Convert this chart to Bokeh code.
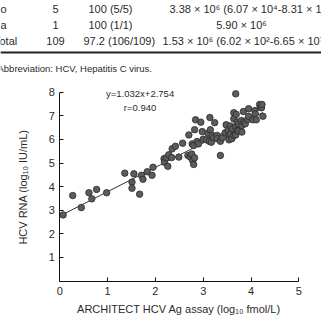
from bokeh.plotting import figure
from bokeh.models import Range1d, FixedTicker
from bokeh.core.properties import value
from bokeh.embed import file_html
from bokeh.resources import INLINE

# ---- table fragment (last rows) ----
row_labels = ["o", "a", "Total"]
row_n = ["5", "1", "109"]
row_pct = ["100 (5/5)", "100 (1/1)", "97.2 (106/109)"]
row_conc = ["3.38 × 10⁶ (6.07 × 10⁴-8.31 × 10⁶)", "5.90 × 10⁶", "1.53 × 10⁶ (6.02 × 10²-6.65 × 10⁷)"]
caption = "Abbreviation: HCV, Hepatitis C virus."

# ---- scatter data: ARCHITECT HCV Ag (log10 fmol/L) vs HCV RNA (log10 IU/mL) ----
ag = [0.07, 0.27, 0.45, 0.61, 0.67, 0.77, 0.98, 1.36, 1.51, 1.51, 1.55, 1.67, 1.71, 1.74, 1.83, 1.93, 1.95,
      2.18, 2.19, 2.23, 2.26, 2.28, 2.34, 2.35, 2.42, 2.49, 2.57, 2.68, 2.70, 2.73, 2.76, 2.77, 2.78, 2.80,
      2.80, 2.82, 2.82, 2.84, 2.87, 2.90, 2.95, 2.98, 3.00,
      3.07, 3.10, 3.13, 3.14, 3.15, 3.17, 3.19, 3.22, 3.24, 3.29, 3.29, 3.36, 3.36, 3.40, 3.46, 3.48, 3.52,
      3.54, 3.54, 3.57, 3.57, 3.60, 3.61, 3.64, 3.64, 3.64, 3.68, 3.68, 3.68, 3.69, 3.71, 3.71, 3.74, 3.74,
      3.80, 3.81, 3.81, 3.84, 3.85, 3.88, 3.93, 3.95, 3.95, 4.04, 4.08, 4.09, 4.11, 4.18, 4.20, 4.22, 4.23, 4.25]
rna = [2.80, 3.62, 3.11, 3.74, 3.48, 3.88, 3.74, 4.57, 4.19, 3.93, 4.54, 3.68, 4.48, 4.31, 4.63, 4.48, 4.82,
       5.18, 5.03, 5.22, 4.86, 5.35, 5.23, 5.60, 5.71, 5.25, 5.84, 5.32, 6.19, 5.25, 5.38, 5.81, 5.11, 4.94,
       5.74, 5.22, 6.41, 6.83, 5.91, 5.81, 6.73, 6.33, 6.01,
       5.98, 6.26, 5.92, 6.93, 6.41, 5.88, 6.17, 6.07, 6.71, 6.17, 6.03, 5.32, 5.92, 6.07, 6.28, 6.62, 6.40,
       6.17, 5.98, 6.57, 6.24, 6.03, 6.45, 6.17, 6.87, 7.13, 6.19, 6.52, 7.93, 7.06, 6.38, 6.73, 6.35, 6.66,
       6.80, 6.31, 6.59, 7.18, 6.73, 6.66, 6.84, 6.98, 7.30, 6.83, 7.22, 7.08, 6.83, 7.48, 7.36, 7.34, 7.48, 6.98]

slope = 1.032
intercept = 2.754
r_value = 0.940
fit_x = [0.0, 4.25]

x_ticks = [0, 1, 2, 3, 4, 5]
y_ticks = [1, 2, 3, 4, 5, 6, 7, 8]

FONT = "Liberation Sans"
TXT = "#2b2b2b"

# Canvas geometry: the plot frame covers the whole page, so the table above the
# chart lives in the same coordinate system.  Data (0,0) sits at pixel (59.3, 280.5).
W, H = 321, 315
X0_PX, PX_PER_X = 59.3, 47.8
Y0_PX, PX_PER_Y = 280.5, 23.6


def cx(px):
    return (px - X0_PX) / PX_PER_X


def cy(py):
    return (Y0_PX - py) / PX_PER_Y


p = figure(width=W, height=H,
           x_range=Range1d(cx(0), cx(W)), y_range=Range1d(cy(H), cy(0)),
           toolbar_location=None, output_backend="svg",
           min_border=0, min_border_left=0, min_border_right=0,
           min_border_top=0, min_border_bottom=0)
p.outline_line_color = None
p.xgrid.visible = False
p.ygrid.visible = False

# ---- axes drawn at the data origin ----
for ax in (p.xaxis[0], p.yaxis[0]):
    ax.fixed_location = 0
    ax.axis_line_color = "#111111"
    ax.axis_line_width = 1
    ax.major_tick_line_color = "#111111"
    ax.major_tick_in = 4
    ax.major_tick_out = 0
    ax.minor_tick_line_color = None
    ax.major_label_text_font = FONT
    ax.major_label_text_font_size = "11px"
    ax.major_label_text_color = TXT
    ax.axis_label_text_font = FONT
    ax.axis_label_text_font_size = "11px"
    ax.axis_label_text_font_style = "normal"
    ax.axis_label_text_color = TXT

p.xaxis.ticker = FixedTicker(ticks=x_ticks)
p.yaxis.ticker = FixedTicker(ticks=y_ticks)
p.xaxis.bounds = (0, 5)
p.yaxis.bounds = (0, 8)
p.xaxis.major_label_standoff = 6
p.yaxis.major_label_standoff = 5
p.xaxis.axis_label = "ARCHITECT HCV Ag assay (log₁₀ fmol/L)"
p.yaxis.axis_label = "HCV RNA (log₁₀ IU/mL)"
p.xaxis.axis_label_standoff = 4
p.yaxis.axis_label_standoff = 16

# ---- regression line, points and fit annotation ----
fit_y = [slope * x + intercept for x in fit_x]
p.line(fit_x, fit_y, line_color="#333333", line_width=1)
p.scatter(ag, rna, size=6.5, marker="circle", fill_color="#5c5c5c", line_color="#2a2a2a", line_width=0.8)

p.text(x=[1.68, 1.68], y=[7.94, 7.35],
       text=[f"y={slope:.3f}x+{intercept:.3f}", f"r={r_value:.3f}"],
       text_align="center", text_baseline="middle",
       text_font=value(FONT), text_font_size="9.5px", text_color=TXT)

# ---- table rows, rule and footnote above the chart ----
row_py = [8.5, 24.5, 40.5]
row_y = [cy(v) for v in row_py]
common = dict(text_font=value(FONT), text_font_size="11px", text_color=TXT, text_baseline="middle")
p.text(x=[cx(0), cx(0), cx(-6.5)], y=row_y, text=row_labels, text_align="left", **common)
p.text(x=[cx(55)] * 3, y=row_y, text=row_n, text_align="center", **common)
p.text(x=[cx(88), cx(88), cx(83)], y=row_y, text=row_pct, text_align="left", **common)
p.text(x=[cx(169), cx(162)], y=[row_y[0], row_y[2]], text=[row_conc[0], row_conc[2]],
       text_align="left", **common)
p.text(x=[cx(241)], y=[row_y[1]], text=[row_conc[1]], text_align="center", **common)
p.segment(x0=[cx(0)], y0=[cy(52)], x1=[cx(W)], y1=[cy(52)], line_color="#222222", line_width=2)
p.text(x=[cx(-3)], y=[cy(68)], text=[caption], text_align="left",
       text_font=value(FONT), text_font_size="9.5px", text_color=TXT, text_baseline="middle")

open("out.html", "w").write(file_html(p, INLINE))
